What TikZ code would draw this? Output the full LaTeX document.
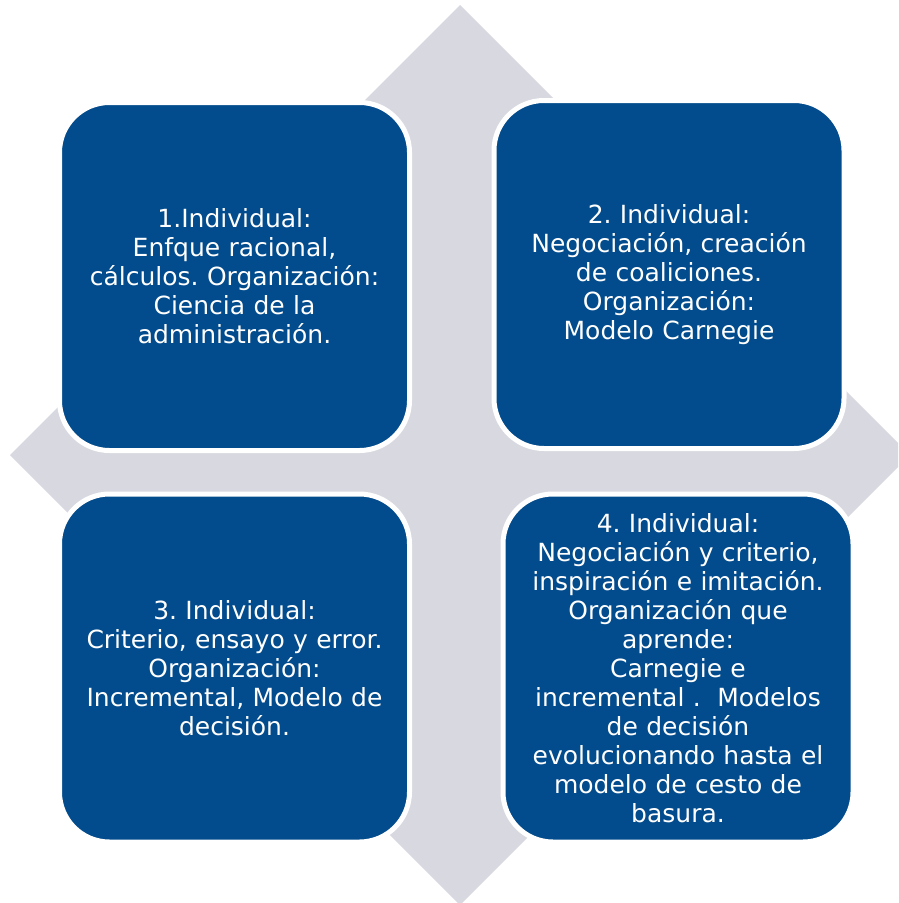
\documentclass[tikz,border=0pt]{standalone}
\usepackage{fontspec}
\setmainfont{DejaVu Sans}
\frenchspacing
\definecolor{quadblue}{RGB}{2,75,140}
\definecolor{crossgrey}{RGB}{215,216,224}
\begin{document}
\begin{tikzpicture}[x=1pt,y=-1pt,
  quad/.style={draw=white, line width=5pt, fill=quadblue, rounded corners=50pt,
    minimum width=350pt, minimum height=348pt, inner sep=0pt,
    text=white, align=center, text width=345pt,
    font=\fontsize{25}{29}\selectfont}]
  \useasboundingbox (0,0) rectangle (898,903);
  \clip (0,0) rectangle (898,903);
  % grey diamond behind the four quadrants
  \fill[crossgrey] (460,5) -- (910,455) -- (460,905) -- (10,455) -- cycle;
  % quadrants
  \node[quad] (q1) at (234.5,276.5) {1.Individual:\\Enfque racional,\\cálculos. Organización:\\Ciencia de la\\administración.};
  \node[quad] (q2) at (669,274.5) {2. Individual:\\Negociación, creación\\de coaliciones.\\Organización:\\Modelo Carnegie};
  \node[quad] (q3) at (234.5,668) {3. Individual:\\Criterio, ensayo y error.\\Organización:\\Incremental, Modelo de\\decisión.};
  \node[quad] (q4) at (678,668) {4. Individual:\\Negociación y criterio,\\inspiración e imitación.\\Organización que\\aprende:\\Carnegie e\\incremental .\ \ Modelos\\de decisión\\evolucionando hasta el\\modelo de cesto de\\basura.};
\end{tikzpicture}
\end{document}
